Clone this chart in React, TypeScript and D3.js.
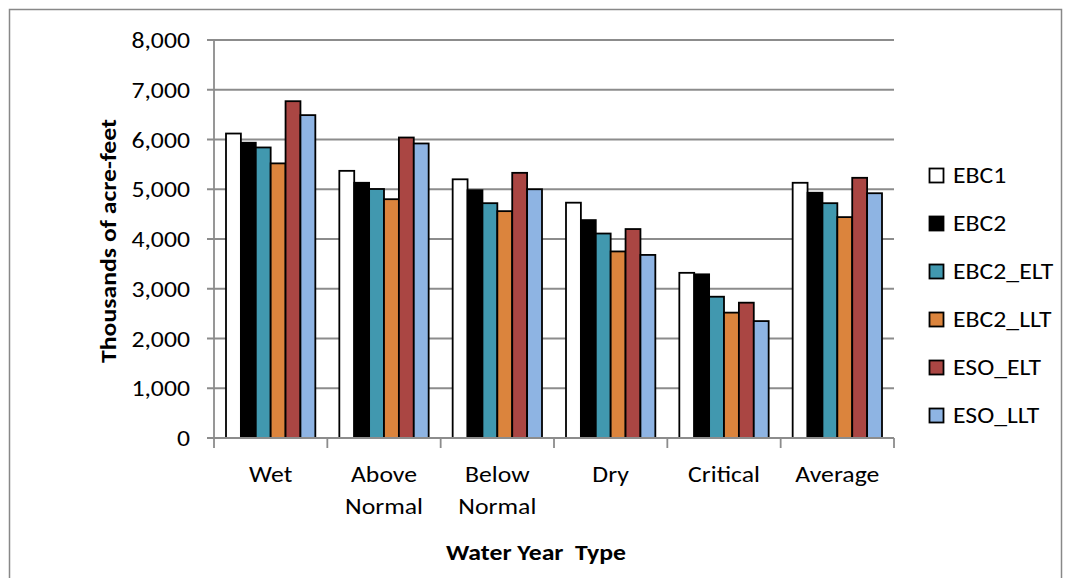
import React from "react";
import * as d3 from "d3";

const categories = [["Wet"], ["Above", "Normal"], ["Below", "Normal"], ["Dry"], ["Critical"], ["Average"]];
const seriesNames = ["EBC1", "EBC2", "EBC2_ELT", "EBC2_LLT", "ESO_ELT", "ESO_LLT"];
const seriesColors = ["#FFFFFF", "#000000", "#4198AF", "#DB843D", "#AA4643", "#8EB4E3"];

const ebc1 = [6120, 5370, 5200, 4730, 3320, 5130];
const ebc2 = [5935, 5130, 4980, 4380, 3290, 4930];
const ebc2Elt = [5840, 5005, 4720, 4110, 2840, 4720];
const ebc2Llt = [5520, 4800, 4560, 3750, 2520, 4440];
const esoElt = [6770, 6040, 5330, 4200, 2720, 5230];
const esoLlt = [6490, 5920, 5000, 3680, 2350, 4920];
const seriesValues = [ebc1, ebc2, ebc2Elt, ebc2Llt, esoElt, esoLlt];

const yTicks = [0, 1000, 2000, 3000, 4000, 5000, 6000, 7000, 8000];

const W = 1073;
const H = 578;
const plot = { left: 214, right: 894, top: 40, bottom: 438 };
const font = "Carlito, Calibri, 'Open Sans', sans-serif";
const STRETCH = 1.17;

// Text with a slight horizontal stretch, anchored at (x, y)
function Label(props: {
  x: number;
  y: number;
  size: number;
  anchor?: "start" | "middle" | "end";
  bold?: boolean;
  rotate?: number;
  dy?: string;
  children: React.ReactNode;
}) {
  const { x, y, size, anchor = "start", bold = false, rotate = 0, dy, children } = props;
  return (
    <g transform={`translate(${x},${y}) rotate(${rotate}) scale(${STRETCH},1)`}>
      <text
        x={0}
        y={0}
        dy={dy}
        textAnchor={anchor}
        fontSize={size}
        fontWeight={bold ? "bold" : "normal"}
        fill="#000"
        style={{ whiteSpace: "pre" }}
      >
        {children}
      </text>
    </g>
  );
}

export default function App() {
  const x0 = d3
    .scaleBand<number>()
    .domain(d3.range(categories.length))
    .range([plot.left, plot.right])
    .paddingInner(0)
    .paddingOuter(0);
  const x1 = d3
    .scaleBand<number>()
    .domain(d3.range(seriesNames.length))
    .range([0, x0.bandwidth()])
    .paddingInner(0)
    .paddingOuter(0.806);
  const y = d3.scaleLinear().domain([0, 8000]).range([plot.bottom, plot.top]);
  const fmt = d3.format(",");

  return (
    <svg
      width={W}
      height={H}
      style={{ position: "absolute", left: 0, top: 0, background: "#fff" }}
      fontFamily={font}
    >
      <rect x={9.5} y={9.5} width={1052} height={600} fill="#fff" stroke="#888" strokeWidth={1.5} />

      {/* gridlines and y ticks */}
      {yTicks.map((t) => (
        <g key={t}>
          <line x1={plot.left - 7} x2={plot.right} y1={y(t)} y2={y(t)} stroke="#8c8c8c" strokeWidth={1.8} />
          <Label x={190} y={y(t) + 8} size={22} anchor="end">
            {fmt(t)}
          </Label>
        </g>
      ))}
      <line x1={plot.left} x2={plot.left} y1={plot.top} y2={plot.bottom} stroke="#8c8c8c" strokeWidth={1.8} />

      {/* bars */}
      {categories.map((c, ci) => (
        <g key={ci} transform={`translate(${x0(ci)},0)`}>
          {seriesValues.map((vals, si) => (
            <rect
              key={si}
              x={x1(si)}
              y={y(vals[ci])}
              width={x1.bandwidth()}
              height={plot.bottom - y(vals[ci])}
              fill={seriesColors[si]}
              stroke="#000"
              strokeWidth={1.8}
            />
          ))}
        </g>
      ))}

      {/* x axis */}
      <line x1={plot.left} x2={plot.right} y1={plot.bottom} y2={plot.bottom} stroke="#8c8c8c" strokeWidth={1.8} />
      {d3.range(categories.length + 1).map((i) => {
        const xx = plot.left + i * x0.step();
        return <line key={i} x1={xx} x2={xx} y1={plot.bottom} y2={plot.bottom + 10} stroke="#8c8c8c" strokeWidth={1.8} />;
      })}
      {categories.map((c, ci) =>
        c.map((line, li) => (
          <Label key={`${ci}-${li}`} x={(x0(ci) as number) + x0.bandwidth() / 2} y={482 + li * 31.5} size={22} anchor="middle">
            {line}
          </Label>
        ))
      )}

      {/* axis titles */}
      <Label x={536} y={560} size={22} anchor="middle" bold>
        {"Water Year  Type"}
      </Label>
      <Label x={116} y={(plot.top + plot.bottom) / 2 + 2} size={22} anchor="middle" bold rotate={-90}>
        Thousands of acre-feet
      </Label>

      {/* legend */}
      {seriesNames.map((name, i) => {
        const base = 183 + i * 48;
        return (
          <g key={name}>
            <rect x={929.5} y={base - 14.5} width={14} height={14} fill={seriesColors[i]} stroke="#000" strokeWidth={1.8} />
            <Label x={953} y={base} size={22}>
              {name}
            </Label>
          </g>
        );
      })}
    </svg>
  );
}
